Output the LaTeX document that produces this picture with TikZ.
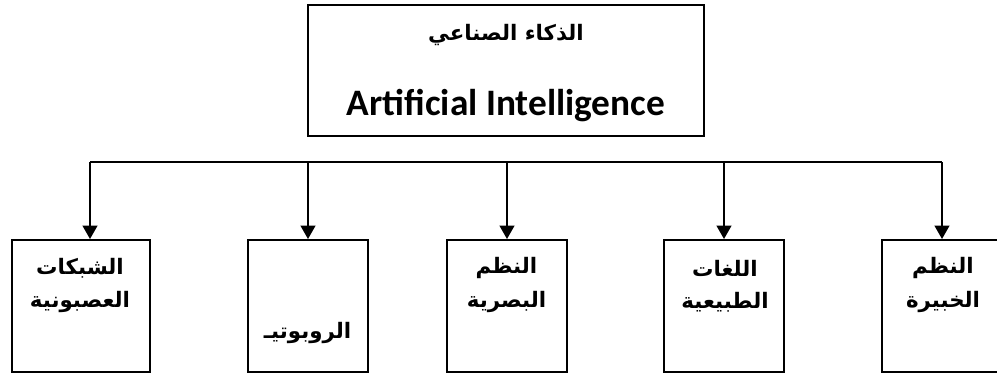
\documentclass[tikz,border=0pt]{standalone}
\usepackage{fontspec}
\setmainfont{Carlito}
\newfontfamily\arabicfont[Script=Arabic]{DejaVu Sans}
\TeXXeTstate=1
\usetikzlibrary{arrows.meta}
\tikzset{
  box/.style={draw, line width=1.5pt, inner sep=0pt},
  smallbox/.style={box, minimum width=90pt, minimum height=99pt},
  artext/.style={inner sep=0pt, font=\arabicfont\bfseries\fontsize{16}{19}\selectfont},
  entext/.style={inner sep=0pt, font=\bfseries\fontsize{28}{32}\selectfont},
  link/.style={line width=1.5pt},
  down/.style={link, -{Triangle[width=11pt, length=10pt]}}
}
\begin{document}
\begin{tikzpicture}[x=0.75pt, y=-0.75pt]
  \clip (0,0) rectangle (997,376);
  \useasboundingbox (0,0) rectangle (997,376);

  % title box
  \node[box, minimum width=297pt, minimum height=98.25pt] (top) at (506,70.5) {};
  \node[artext] (toptitle) at (506,35) {\beginR الذكاء الصناعي\endR};
  \node[entext] (topsub) at (506,106) {Artificial Intelligence};

  % branch boxes
  \node[box, minimum width=103.5pt, minimum height=99pt] (b1) at (81,306) {};
  \node[smallbox] (b2) at (308,306) {};
  \node[smallbox] (b3) at (506.5,306) {};
  \node[smallbox] (b4) at (724,306) {};
  \node[smallbox] (b5) at (942,306) {};

  % box labels
  \node[artext] (t1a) at (80,268) {\beginR الشبكات\endR};
  \node[artext] (t1b) at (80,302) {\beginR العصبونية\endR};
  \node[artext] (t2) at (307.5,333) {\beginR الروبوتيـ\endR};
  \node[artext] (t3a) at (506.5,268) {\beginR النظم\endR};
  \node[artext] (t3b) at (506.5,302) {\beginR البصرية\endR};
  \node[artext] (t4a) at (725,268) {\beginR اللغات\endR};
  \node[artext] (t4b) at (725,302) {\beginR الطبيعية\endR};
  \node[artext] (t5a) at (943,268) {\beginR النظم\endR};
  \node[artext] (t5b) at (943,302) {\beginR الخبيرة\endR};

  % distribution bar
  \coordinate (a1) at (90,162);
  \coordinate (a2) at (308,162);
  \coordinate (a3) at (507,162);
  \coordinate (a4) at (724,162);
  \coordinate (a5) at (942,162);
  \draw[link] (a1) -- (a5);
  \draw[down] (a1) -- (a1 |- b1.north);
  \draw[down] (a2) -- (a2 |- b2.north);
  \draw[down] (a3) -- (a3 |- b3.north);
  \draw[down] (a4) -- (a4 |- b4.north);
  \draw[down] (a5) -- (a5 |- b5.north);
\end{tikzpicture}
\end{document}
